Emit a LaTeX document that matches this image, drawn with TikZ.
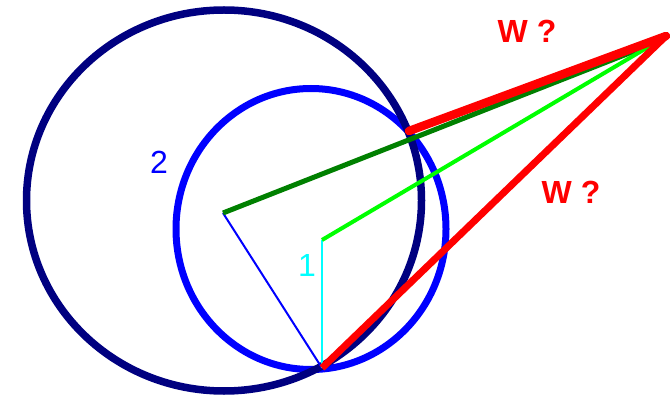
\documentclass[tikz,border=0pt]{standalone}
\usepackage{fontspec}
\setmainfont{Liberation Sans}
\definecolor{cnavy}{RGB}{0,0,128}
\definecolor{cblue}{RGB}{0,0,255}
\definecolor{cred}{RGB}{255,0,0}
\definecolor{cdgreen}{RGB}{0,128,0}
\definecolor{clgreen}{RGB}{0,255,0}
\definecolor{ccyan}{RGB}{0,255,255}
\begin{document}
\begin{tikzpicture}[x=1pt,y=-1pt,
  lbl/.style={inner sep=0pt,font=\fontsize{32}{32}\selectfont},
  wlbl/.style={lbl,text=cred,font=\fontsize{32}{32}\selectfont\bfseries}]
\useasboundingbox (0,0) rectangle (671,395);
\coordinate (O1) at (223,213);
\coordinate (O2) at (322,240);
\coordinate (P) at (322,368);
\coordinate (Q) at (409,131);
\coordinate (A) at (666,36);
\coordinate (G) at (655,43);
% circles
\draw[cblue,line width=7pt] (311,229) ellipse [x radius=135pt,y radius=140.5pt];
\draw[cnavy,line width=7.5pt] (224,200.5) ellipse [x radius=197.5pt,y radius=190.5pt];
% radii
\draw[cblue,line width=2pt] (O1) -- (P);
\draw[ccyan,line width=2pt] (O2) -- (P);
\draw[cdgreen,line width=5pt] (O1) -- (G);
\draw[clgreen,line width=4pt] (O2) -- (G);
% red lines
\draw[cred,line width=8.5pt,line cap=round] (Q) -- (A);
\draw[cred,line width=7pt] (A) -- (P);
% labels
\node[wlbl] (w1) at (527,31) {W ?};
\node[wlbl] (w2) at (571,192) {W ?};
\node[lbl,text=cblue] (n2) at (159,162) {2};
\node[lbl,text=ccyan] (n1) at (307,265) {1};
\end{tikzpicture}
\end{document}
